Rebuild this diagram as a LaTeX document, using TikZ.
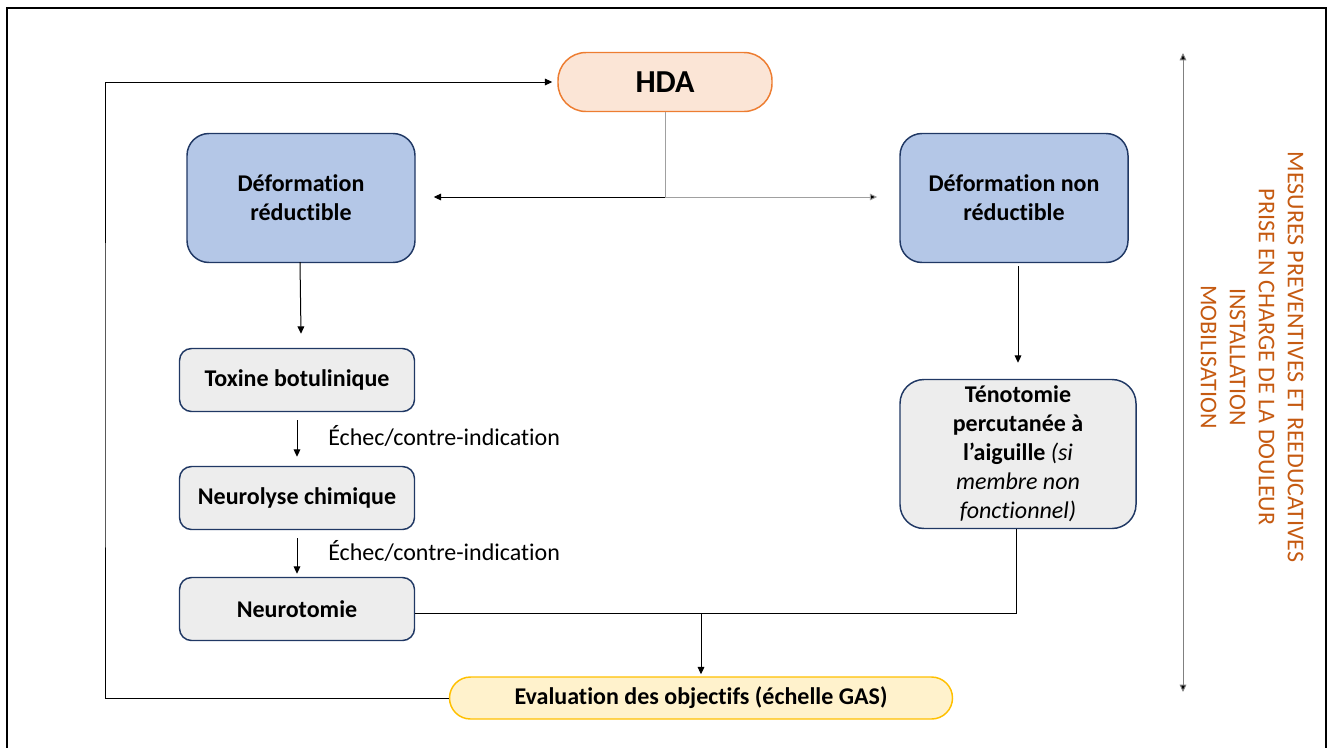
\documentclass[tikz,border=0pt]{standalone}
\usepackage{fontspec}
\setmainfont{Carlito}[Ligatures=NoCommon, RawFeature={-liga;-dlig}]
\usetikzlibrary{arrows.meta}
\definecolor{hdafill}{HTML}{FBE5D6}
\definecolor{hdadraw}{HTML}{ED7D31}
\definecolor{bluefill}{HTML}{B4C7E7}
\definecolor{boxdraw}{HTML}{203864}
\definecolor{grayfill}{HTML}{EDEDED}
\definecolor{evalfill}{HTML}{FFF2CC}
\definecolor{evaldraw}{HTML}{FFC000}
\definecolor{orangetxt}{HTML}{C55A11}
\definecolor{linegray}{HTML}{A0A0A0}
\tikzset{
  x=0.75pt, y=-0.75pt,
  base/.style={inner sep=0pt, align=center, line width=1.1pt, font=\fontsize{18pt}{21.75pt}\selectfont\bfseries},
  bluebox/.style={base, fill=bluefill, draw=boxdraw, rounded corners=16.5pt, minimum width=171pt, minimum height=96.75pt},
  graybox/.style={base, fill=grayfill, draw=boxdraw, rounded corners=9pt, minimum width=176.25pt, minimum height=47.25pt},
  conn/.style={line width=0.75pt, draw=black},
  arr/.style={conn, -{Triangle[length=5.5pt,width=5pt]}},
  lbl/.style={inner sep=0pt, anchor=west, font=\fontsize{18pt}{21.75pt}\selectfont},
}
\begin{document}
\begin{tikzpicture}
\useasboundingbox (0,0) rectangle (1334,747);
\draw[line width=1.5pt] (7,760) -- (7,8) -- (1326,8) -- (1326,760);

\node[base, fill=hdafill, draw=hdadraw, rounded corners=21pt, minimum width=160.5pt, minimum height=44.25pt, font=\fontsize{24pt}{28pt}\selectfont\bfseries] (hda) at (665,82) {HDA};

\node[bluebox] (dr) at (301,198) {Déformation\\réductible};
\node[bluebox] (dnr) at (1014,198) {Déformation non\\réductible};

\node[graybox] (tox) at (297,380) {Toxine botulinique};
\node[graybox] (neurol) at (297,498) {Neurolyse chimique};
\node[graybox] (neurot) at (297,609) {Neurotomie};

\node[base, fill=grayfill, draw=boxdraw, rounded corners=18pt, minimum width=177pt, minimum height=111.75pt] (teno) at (1018,454)
  {Ténotomie\\percutanée à\\l’aiguille \textmd{\itshape (si}\\\textmd{\itshape membre non}\\\textmd{\itshape fonctionnel)}};

\node[base, fill=evalfill, draw=evaldraw, rounded corners=15.75pt, minimum width=377.25pt, minimum height=31.5pt] (eval) at (701,698) {Evaluation des objectifs (échelle GAS)};

% HDA split
\coordinate (split) at (665,197);
\draw[conn, draw=linegray] (hda.south) -- (split);
\draw[arr] (split) -- ([xshift=13.5pt]dr.east |- split);
\draw[arr, draw=linegray, -{Triangle[length=5.5pt,width=5pt,fill=black]}] (split) -- ([xshift=-16.5pt]dnr.west |- split);

% left chain
\draw[arr] ([xshift=-0.75pt,yshift=0.75pt]dr.south) -- ([yshift=10.5pt]tox.north -| dr.south);
\draw[arr] ([yshift=-6pt]tox.south) -- ([yshift=6.75pt]neurol.north);
\draw[arr] ([yshift=-6pt]neurol.south) -- ([yshift=2.25pt]neurot.north);
\node[lbl] (l1) at (328,436) {Échec/contre-indication};
\node[lbl] (l2) at (328,551) {Échec/contre-indication};

% right chain
\draw[arr] ([xshift=3pt,yshift=-2.25pt]dnr.south) -- ([yshift=12pt]teno.north);

% merge to evaluation
\coordinate (nj) at ([yshift=-3pt]neurot.east);
\draw[conn] ([xshift=-1.5pt]teno.south) |- (nj);
\draw[arr] (eval.north |- nj) -- ([yshift=1.5pt]eval.north);

% loop back to HDA
\coordinate (lp) at (105,400);
\draw[arr] (eval.west) -| (lp) |- ([xshift=-3.75pt]hda.west);

% vertical double arrow
\coordinate (vtop) at (1183,53);
\coordinate (vbot) at (1183,692);
\draw[line width=0.75pt, draw=gray, {Triangle[length=5.5pt,width=5pt,fill=black]}-{Triangle[length=5.5pt,width=5pt,fill=black]}] (vtop) -- (vbot);

\node[rotate=-90, align=center, text=orangetxt, inner sep=0pt, font=\fontsize{18pt}{21.75pt}\selectfont] (side) at (1252,357)
  {MESURES PREVENTIVES ET REEDUCATIVES\\PRISE EN CHARGE DE LA DOULEUR\\INSTALLATION\\MOBILISATION};
\end{tikzpicture}
\end{document}
